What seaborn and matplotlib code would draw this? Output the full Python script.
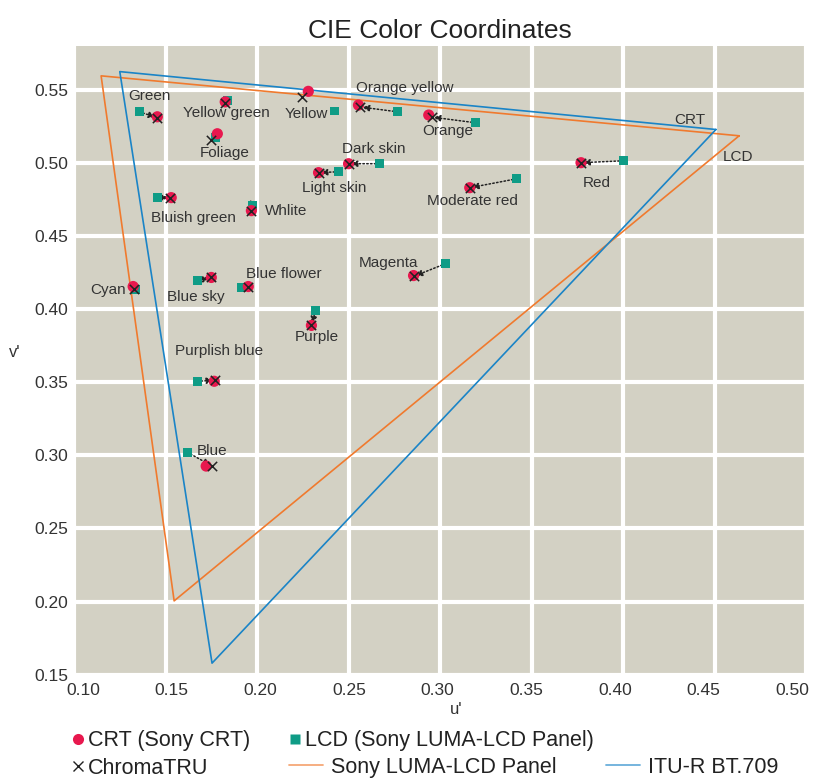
import numpy as np
import pandas as pd
import seaborn as sns
import matplotlib
matplotlib.use("Agg")
from matplotlib import pyplot as plt
from matplotlib.lines import Line2D
from matplotlib.transforms import ScaledTranslation

# Macbeth patches, u'/v' coordinates
patches = ["Green", "Yellow green", "Yellow", "Orange yellow", "Orange", "Foliage",
           "Dark skin", "Light skin", "Red", "Moderate red", "Bluish green", "Whlite",
           "Cyan", "Blue sky", "Blue flower", "Magenta", "Purple", "Purplish blue", "Blue"]
crt_u = [0.1455, 0.1826, 0.2280, 0.2554, 0.2938, 0.1783, 0.2500, 0.2336, 0.3770, 0.3162,
         0.1531, 0.1969, 0.1323, 0.1750, 0.1952, 0.2855, 0.2297, 0.1766, 0.1722]
crt_v = [0.5316, 0.5418, 0.5490, 0.5396, 0.5328, 0.5200, 0.4995, 0.4934, 0.5002, 0.4831,
         0.4763, 0.4674, 0.4155, 0.4217, 0.4155, 0.4230, 0.3889, 0.3507, 0.2927]
chroma_u = [0.1455, 0.1826, 0.2248, 0.2565, 0.2954, 0.1750, 0.2500, 0.2336, 0.3770, 0.3162,
            0.1526, 0.1969, 0.1328, 0.1750, 0.1952, 0.2855, 0.2297, 0.1772, 0.1755]
chroma_v = [0.5310, 0.5412, 0.5450, 0.5383, 0.5314, 0.5159, 0.4995, 0.4934, 0.5002, 0.4831,
            0.4763, 0.4674, 0.4135, 0.4217, 0.4155, 0.4224, 0.3889, 0.3514, 0.2927]
lcd_u = [0.1356, 0.1837, 0.2423, 0.2768, 0.3195, 0.1772, 0.2670, 0.2445, 0.4000, 0.3419,
         0.1454, 0.1974, 0.1334, 0.1673, 0.1914, 0.3031, 0.2319, 0.1673, 0.1618]
lcd_v = [0.5350, 0.5425, 0.5355, 0.5350, 0.5275, 0.5173, 0.4995, 0.4940, 0.5015, 0.4892,
         0.4763, 0.4708, 0.4135, 0.4196, 0.4148, 0.4312, 0.3991, 0.3507, 0.3022]
# patches drawn without a shift arrow
no_arrow = ["Yellow", "Yellow green", "Foliage", "Cyan"]

# gamut triangles (R, G, B, back to R)
bt709_u = [0.4507, 0.1250, 0.1754, 0.4507]
bt709_v = [0.5229, 0.5625, 0.1579, 0.5229]
luma_u = [0.4634, 0.1148, 0.1547, 0.4634]
luma_v = [0.5186, 0.5596, 0.2005, 0.5186]

# label offsets in pixels from the CRT point
label_offsets = {"Green": (-8, 21), "Yellow green": (1, -11), "Yellow": (-2, -23),
                 "Orange yellow": (46, 17), "Orange": (19, -16), "Foliage": (7, -19),
                 "Dark skin": (25, 15), "Light skin": (16, -15), "Red": (16, -20),
                 "Moderate red": (3, -13), "Bluish green": (22, -20), "Whlite": (35, 0),
                 "Cyan": (-25, -3), "Blue sky": (-15, -20), "Blue flower": (36, 13),
                 "Magenta": (-25, 13), "Purple": (5, -12), "Purplish blue": (5, 30),
                 "Blue": (6, 15)}

df = pd.DataFrame({"patch": patches, "crt_u": crt_u, "crt_v": crt_v,
                   "chroma_u": chroma_u, "chroma_v": chroma_v,
                   "lcd_u": lcd_u, "lcd_v": lcd_v})

sns.set_theme(style="darkgrid", rc={
    "axes.facecolor": "#d3d1c4",
    "grid.color": "white",
    "grid.linewidth": 3,
    "axes.edgecolor": "none",
})
plt.rcParams["font.family"] = ["Liberation Sans", "DejaVu Sans"]

fig = plt.figure(figsize=(8.18, 7.80), dpi=100)
ax = fig.add_axes([0.0905, 0.135, 0.895, 0.806])

orange = "#f07a2e"
blue = "#1a84c7"
ax.plot(luma_u, luma_v, color=orange, lw=1.2, zorder=2)
ax.plot(bt709_u, bt709_v, color=blue, lw=1.2, zorder=2)

for _, r in df.iterrows():
    if r.patch in no_arrow:
        continue
    ax.annotate("", xy=(r.chroma_u, r.chroma_v), xytext=(r.lcd_u, r.lcd_v),
                arrowprops=dict(arrowstyle="-|>,head_length=0.35,head_width=0.15",
                                color="#222222", lw=1.1, linestyle=(0, (1, 1.5)),
                                shrinkA=0, shrinkB=1),
                zorder=3)

sns.scatterplot(data=df, x="lcd_u", y="lcd_v", marker="s", s=40, color="#0f9c86",
                edgecolor="none", ax=ax, zorder=4)
sns.scatterplot(data=df, x="crt_u", y="crt_v", marker="o", s=65, color="#e8184e",
                edgecolor="none", ax=ax, zorder=5)
sns.scatterplot(data=df, x="chroma_u", y="chroma_v", marker="x", s=45, color="#222222",
                linewidth=1.1, ax=ax, zorder=6)

for _, r in df.iterrows():
    dx, dy = label_offsets[r.patch]
    ax.annotate(r.patch, xy=(r.crt_u, r.crt_v), xytext=(dx, dy),
                textcoords="offset pixels", ha="center", va="center",
                fontsize=11, color="#333333", zorder=7)

ax.annotate("CRT", xy=(bt709_u[0], bt709_v[0]), xytext=(-26, 10),
            textcoords="offset pixels", ha="center", va="center", fontsize=11, color="#333333")
ax.annotate("LCD", xy=(luma_u[0], luma_v[0]), xytext=(-1, -21),
            textcoords="offset pixels", ha="center", va="center", fontsize=11, color="#333333")

ax.set_xlim(0.10, 0.50)
ax.set_ylim(0.15, 0.58)
xt = np.arange(0.10, 0.501, 0.05)
ax.set_xticks(xt)
ax.set_yticks(np.arange(0.15, 0.551, 0.05))
ax.xaxis.set_major_formatter(matplotlib.ticker.FormatStrFormatter("%.2f"))
ax.yaxis.set_major_formatter(matplotlib.ticker.FormatStrFormatter("%.2f"))
ax.tick_params(labelsize=12.5, colors="#333333", length=0)
ax.tick_params(axis="x", pad=6)
ax.tick_params(axis="y", pad=4)
# x tick labels sit on a slightly narrower span than the grid
for t, lab in zip(xt, ax.get_xticklabels()):
    shift = (9 - (t - 0.10) / 0.40 * 23) / 100
    lab.set_transform(lab.get_transform() + ScaledTranslation(shift, 0, fig.dpi_scale_trans))

ax.set_xlabel("u'", fontsize=12, color="#333333", labelpad=4)
ax.xaxis.set_label_coords(0.522, -0.043)
ax.set_ylabel("v'", fontsize=12, color="#333333", rotation=0, labelpad=14)
ax.set_title("CIE Color Coordinates", fontsize=19, color="#222222", pad=6)

mk_handles = [
    Line2D([], [], marker="o", color="none", markerfacecolor="#e8184e", markeredgecolor="none", markersize=8),
    Line2D([], [], marker="x", color="none", markeredgecolor="#222222", markersize=6.5, markeredgewidth=1),
    Line2D([], [], marker="s", color="none", markerfacecolor="#0f9c86", markeredgecolor="none", markersize=7),
    Line2D([], [], color="none"),
]
mk_labels = ["CRT (Sony CRT)", "ChromaTRU", "LCD (Sony LUMA-LCD Panel)", ""]
fig.legend(mk_handles, mk_labels, ncol=2, loc="upper left", bbox_to_anchor=(0.0874, 0.064),
           frameon=False, fontsize=15.5, handlelength=0.6, handletextpad=0.16,
           columnspacing=1.8, labelspacing=0.3, borderpad=0, borderaxespad=0,
           labelcolor="#222222")

ln_handles = [Line2D([], [], color=orange, lw=1.3, alpha=0.65),
              Line2D([], [], color=blue, lw=1.3, alpha=0.65)]
ln_labels = ["Sony LUMA-LCD Panel", "ITU-R BT.709"]
fig.legend(ln_handles, ln_labels, ncol=2, loc="upper left", bbox_to_anchor=(0.3533, 0.030),
           frameon=False, fontsize=15.5, handlelength=1.58, handletextpad=0.37,
           columnspacing=2.3, borderpad=0, borderaxespad=0, labelcolor="#222222")

fig.savefig("out.png", dpi=100)
